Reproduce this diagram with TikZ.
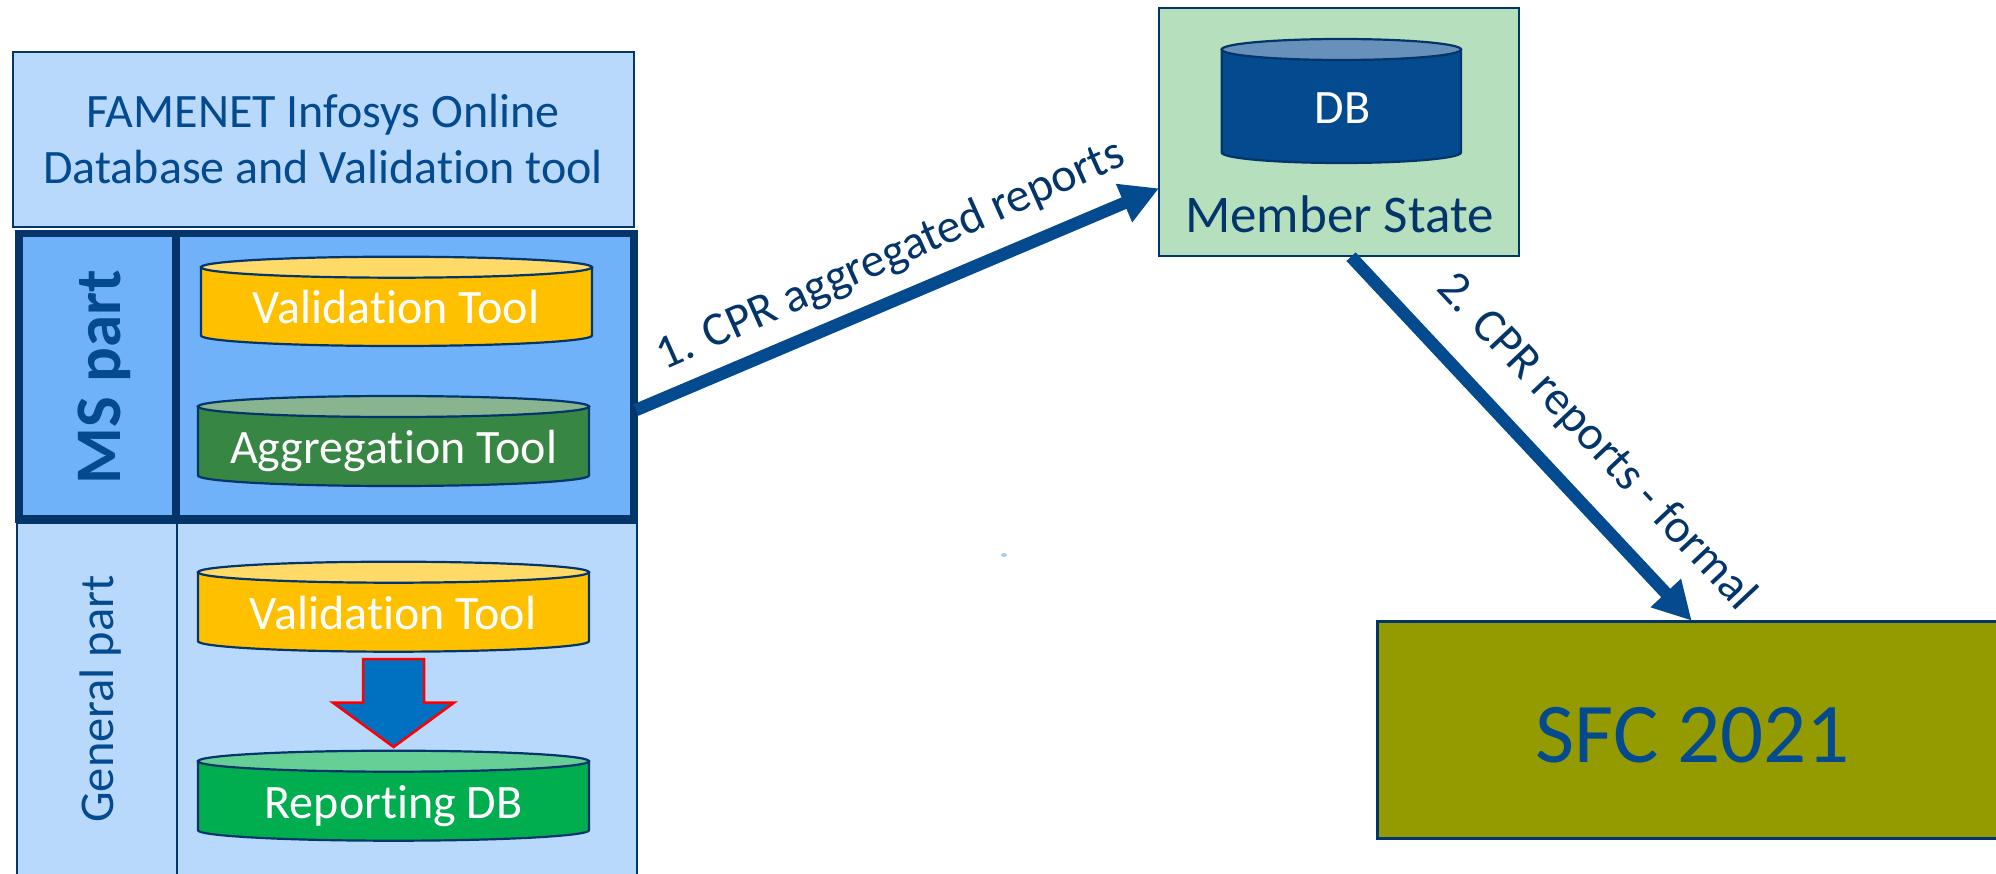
\documentclass[tikz,border=0pt]{standalone}
\usepackage{fontspec}
\setmainfont{Carlito}[Ligatures=NoCommon]
\usetikzlibrary{arrows.meta,calc}
\definecolor{lightb}{HTML}{B8D9FC}
\definecolor{midb}{HTML}{6FB2FA}
\definecolor{edge}{HTML}{03356A}
\definecolor{txtb}{HTML}{044A8E}
\definecolor{amber}{HTML}{FFC000}
\definecolor{ambertop}{HTML}{FFDA66}
\definecolor{leaf}{HTML}{388644}
\definecolor{leaftop}{HTML}{88B58F}
\definecolor{jade}{HTML}{00AE50}
\definecolor{jadetop}{HTML}{66CF96}
\definecolor{navytop}{HTML}{6791BB}
\definecolor{mint}{HTML}{B6DFBE}
\definecolor{olive}{HTML}{939B00}
\definecolor{shaft}{HTML}{0070C0}
\definecolor{speck}{HTML}{A9CFEB}
\tikzset{
  x=1pt,y=-1pt,
  panel/.style={draw=edge,line width=2pt,fill=lightb,inner sep=0pt,outer sep=0pt},
  strong/.style={draw=edge,line width=7.5pt,fill=midb,inner sep=0pt,outer sep=0pt},
  dbtext/.style={anchor=base,text=white,font=\fontsize{48}{56}\selectfont,inner sep=0pt},
  lbl/.style={text=edge,font=\fontsize{47.8}{56}\selectfont,inner sep=0pt},
  flow/.style={draw=txtb,line width=12.5pt,-{Triangle[length=38pt,width=39pt]},txtb},
  dbstroke/.style={draw=edge,line width=2.2pt},
}
% #1 x1, #2 x2, #3 ytop, #4 ybottom, #5 body, #6 lid
\newcommand{\dbcyl}[6]{%
  \pgfmathsetmacro{\ry}{10.5}%
  \pgfmathsetmacro{\rx}{(#2-#1)/2}%
  \pgfmathsetmacro{\cxx}{(#1+#2)/2}%
  \pgfmathsetmacro{\yc}{#3+\ry}%
  \pgfmathsetmacro{\yb}{#4-\ry}%
  \path[dbstroke,fill=#5] (#1,\yc) -- (#1,\yb) arc[start angle=180,end angle=0,x radius=\rx,y radius=\ry] -- (#2,\yc) -- cycle;
  \path[dbstroke,fill=#6] (\cxx,\yc) ellipse[x radius=\rx,y radius=\ry];
}
\begin{document}
\begin{tikzpicture}
\clip (0,0) rectangle (1996,874);
\path[fill=white] (0,0) rectangle (1996,874);
% left stack
\node[panel,minimum width=621pt,minimum height=175pt,anchor=north west,text=txtb,align=center,font=\fontsize{48}{56}\selectfont] (famenet) at (12.6,51.7) {FAMENET Infosys Online\\Database and Validation tool};
% general part
\node[panel,minimum width=160pt,minimum height=352pt,anchor=north west] (gencell) at (17,523) {};
\node[panel,minimum width=459.5pt,minimum height=352pt,anchor=north west] (genbody) at (177,523) {};
\node[rotate=90,anchor=base,text=txtb,font=\fontsize{48.5}{56}\selectfont,inner sep=0pt] (genlabel) at (113,699) {General part};
% MS part
\node[strong,minimum width=157pt,minimum height=285.3pt,anchor=north west] (mscell) at (19,233.7) {};
\node[strong,minimum width=458pt,minimum height=285.3pt,anchor=north west] (msbody) at (176,233.7) {};
\node[rotate=90,anchor=base,text=txtb,font=\bfseries\fontsize{65}{72}\selectfont,inner sep=0pt] (mslabel) at (120,377) {MS part};
% cylinders
\dbcyl{201}{592}{256.7}{346}{amber}{ambertop}
\node[dbtext] (val1) at (396,324) {Validation Tool};
\dbcyl{198}{589}{396}{486}{leaf}{leaftop}
\node[dbtext] (agg) at (393.6,463) {Aggregation Tool};
\dbcyl{198}{589}{561.7}{651.7}{amber}{ambertop}
\node[dbtext] (val2) at (393,629) {Validation Tool};
\dbcyl{198}{589}{750.7}{840.7}{jade}{jadetop}
\node[dbtext] (rep) at (393.6,818.5) {Reporting DB};
% block arrow
\path[draw=red,line width=2.5pt,fill=shaft,line join=miter] (363,659) -- (424,659) -- (424,702.7) -- (454,702.7) -- (393.6,747) -- (333,702.7) -- (363,702.7) -- cycle;
% stray mark
\path[fill=speck] (1004,555) ellipse[x radius=3,y radius=2];
% member state
\node[draw=edge,line width=2pt,fill=mint,minimum width=359.7pt,minimum height=247.4pt,anchor=north west,inner sep=0pt,outer sep=0pt] (member) at (1159,8.3) {};
\dbcyl{1221.7}{1461}{39}{163}{txtb}{navytop}
\node[dbtext] (db) at (1342.5,124) {DB};
\node[anchor=base,text=edge,font=\fontsize{53}{60}\selectfont,inner sep=0pt] (mslab) at (1339.5,233) {Member State};
% SFC
\node[draw=edge,line width=2.5pt,fill=olive,minimum width=640pt,minimum height=216.6pt,anchor=north west,inner sep=0pt,outer sep=0pt] (sfc) at (1377.7,621.7) {};
\node[anchor=base,text=txtb,font=\fontsize{85}{100}\selectfont,inner sep=0pt] (sfclab) at (1693,762) {SFC 2021};
% connectors
\coordinate (a1s) at ($(msbody.south east)+(2,-109)$);
\coordinate (a1e) at ($(member.north west)+(0,180)$);
\coordinate (a2s) at ($(member.south west)+(192,1)$);
\coordinate (a2e) at ($(sfc.north west)+(314,-1)$);
\draw[flow] (a1s) -- (a1e);
\draw[flow] (a2s) -- (a2e);
\node[lbl,rotate=24] (l1) at (891,256) {1. CPR aggregated reports};
\node[lbl,rotate=-46.8] (l2) at (1596,442) {2. CPR reports - formal};
\end{tikzpicture}
\end{document}
